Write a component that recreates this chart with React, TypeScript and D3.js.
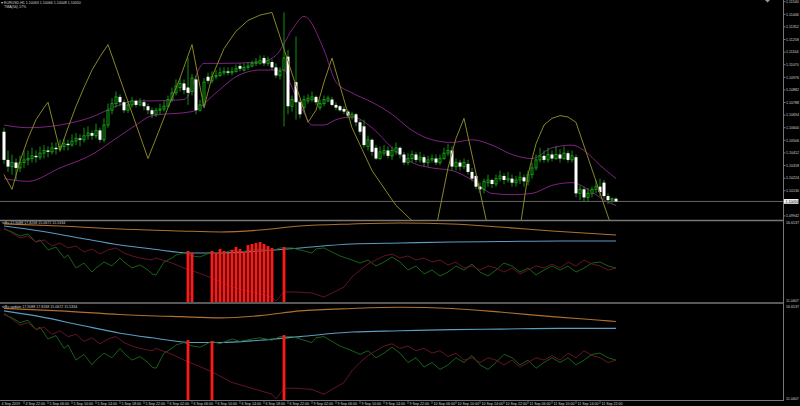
import * as d3 from 'd3'

// price axis (main window)
const priceTicks = [1.1154, 1.11446, 1.11352, 1.11258, 1.11164, 1.1107, 1.10976, 1.10882, 1.10788,
  1.10694, 1.106, 1.10506, 1.10412, 1.10318, 1.10224, 1.1013, 1.10036, 1.09942]
const lastPrice = 1.1005
const subTicks = [16.6137, 11.0407]

const timeLabels = ['4 Sep 2019', '4 Sep 22:00', '5 Sep 06:00', '5 Sep 10:00', '5 Sep 14:00', '5 Sep 18:00',
  '5 Sep 22:00', '6 Sep 02:00', '6 Sep 06:00', '6 Sep 10:00', '6 Sep 14:00', '6 Sep 18:00', '6 Sep 22:00',
  '9 Sep 02:00', '9 Sep 06:00', '9 Sep 10:00', '9 Sep 14:00', '9 Sep 22:00', '10 Sep 06:00', '10 Sep 10:00',
  '10 Sep 14:00', '10 Sep 22:00', '11 Sep 06:00', '11 Sep 10:00', '11 Sep 14:00', '11 Sep 22:00']
const timeLabelBars = [0, 5, 11, 17, 23, 29, 35, 41, 47, 53, 59, 65, 71, 77, 83, 89, 95, 101, 107, 113, 119,
  125, 131, 137, 143, 149]

// candles
const opens = [
  1.1057, 1.1036, 1.1031, 1.1034, 1.1030, 1.1034, 1.1036, 1.1037, 1.1039, 1.1038,
  1.1041, 1.1043, 1.1042, 1.1045, 1.1044, 1.1046, 1.1048, 1.1047, 1.1050, 1.1052,
  1.1051, 1.1054, 1.1056, 1.1054, 1.1058, 1.1051, 1.1062, 1.1073, 1.1078, 1.1083,
  1.1079, 1.1073, 1.1077, 1.1080, 1.1077, 1.1079, 1.1076, 1.1073, 1.1070, 1.1073,
  1.1074, 1.1076, 1.1081, 1.1086, 1.1090, 1.1093, 1.1090, 1.1087, 1.1096, 1.1073,
  1.1077, 1.1098, 1.1095, 1.1098, 1.1099, 1.1101, 1.1102, 1.1101, 1.1102, 1.1106,
  1.1103, 1.1105, 1.1106, 1.1108, 1.1108, 1.1112, 1.1108, 1.1109, 1.1105, 1.1099,
  1.1103, 1.1113, 1.1076, 1.1094, 1.1079, 1.1075, 1.1080, 1.1081, 1.1083, 1.1075,
  1.1078, 1.1080, 1.1081, 1.1077, 1.1076, 1.1074, 1.1072, 1.1068, 1.1070, 1.1064,
  1.1061, 1.1046, 1.1051, 1.1045, 1.1037, 1.1041, 1.1043, 1.1039, 1.1042, 1.1045,
  1.1040, 1.1034, 1.1037, 1.1040, 1.1036, 1.1038, 1.1034, 1.1036, 1.1037, 1.1034,
  1.1037, 1.1041, 1.1043, 1.1031, 1.1034, 1.1031, 1.1033, 1.1027, 1.1024, 1.1016,
  1.1014, 1.1019, 1.1021, 1.1018, 1.1022, 1.1024, 1.1021, 1.1022, 1.1019, 1.1021,
  1.1023, 1.1020, 1.1025, 1.1030, 1.1036, 1.1039, 1.1036, 1.1040, 1.1037, 1.1040,
  1.1037, 1.1041, 1.1036, 1.1038, 1.1011, 1.1014, 1.1008, 1.1011, 1.1014, 1.1016,
  1.1019, 1.1009, 1.1006, 1.1007]
const highs = [
  1.1060, 1.1043, 1.1040, 1.1037, 1.1039, 1.1043, 1.1043, 1.1045, 1.1043, 1.1046,
  1.1047, 1.1046, 1.1049, 1.1049, 1.1051, 1.1052, 1.1051, 1.1055, 1.1056, 1.1055,
  1.1060, 1.1061, 1.1058, 1.1063, 1.1060, 1.1067, 1.1078, 1.1082, 1.1087, 1.1085,
  1.1081, 1.1080, 1.1083, 1.1081, 1.1082, 1.1081, 1.1078, 1.1075, 1.1075, 1.1078,
  1.1080, 1.1084, 1.1090, 1.1096, 1.1097, 1.1096, 1.1112, 1.1100, 1.1099, 1.1081,
  1.1097, 1.1101, 1.1102, 1.1103, 1.1105, 1.1105, 1.1105, 1.1105, 1.1107, 1.1108,
  1.1108, 1.1109, 1.1110, 1.1112, 1.1114, 1.1114, 1.1113, 1.1111, 1.1108, 1.1105,
  1.1146, 1.1118, 1.1084, 1.1128, 1.1081, 1.1084, 1.1085, 1.1087, 1.1084, 1.1081,
  1.1084, 1.1084, 1.1083, 1.1079, 1.1077, 1.1076, 1.1073, 1.1072, 1.1071, 1.1066,
  1.1066, 1.1054, 1.1052, 1.1047, 1.1046, 1.1047, 1.1046, 1.1046, 1.1049, 1.1046,
  1.1042, 1.1041, 1.1043, 1.1042, 1.1042, 1.1040, 1.1039, 1.1040, 1.1040, 1.1040,
  1.1045, 1.1048, 1.1046, 1.1037, 1.1036, 1.1037, 1.1036, 1.1030, 1.1025, 1.1019,
  1.1022, 1.1025, 1.1022, 1.1025, 1.1028, 1.1026, 1.1027, 1.1025, 1.1024, 1.1027,
  1.1025, 1.1028, 1.1034, 1.1040, 1.1045, 1.1043, 1.1045, 1.1043, 1.1046, 1.1044,
  1.1046, 1.1043, 1.1043, 1.1040, 1.1017, 1.1016, 1.1015, 1.1016, 1.1021, 1.1022,
  1.1021, 1.1011, 1.1008, 1.1008]
const lows = [
  1.1033, 1.1027, 1.1025, 1.1021, 1.1027, 1.1030, 1.1032, 1.1034, 1.1034, 1.1036,
  1.1037, 1.1038, 1.1040, 1.1040, 1.1042, 1.1043, 1.1043, 1.1046, 1.1047, 1.1046,
  1.1049, 1.1051, 1.1051, 1.1052, 1.1049, 1.1049, 1.1060, 1.1070, 1.1075, 1.1076,
  1.1071, 1.1071, 1.1075, 1.1075, 1.1076, 1.1073, 1.1070, 1.1067, 1.1068, 1.1070,
  1.1072, 1.1075, 1.1079, 1.1084, 1.1087, 1.1085, 1.1077, 1.1084, 1.1070, 1.1072,
  1.1075, 1.1093, 1.1093, 1.1096, 1.1098, 1.1099, 1.1099, 1.1099, 1.1101, 1.1102,
  1.1102, 1.1103, 1.1105, 1.1106, 1.1107, 1.1106, 1.1106, 1.1103, 1.1097, 1.1096,
  1.1061, 1.1070, 1.1072, 1.1066, 1.1067, 1.1072, 1.1078, 1.1079, 1.1077, 1.1073,
  1.1076, 1.1079, 1.1076, 1.1073, 1.1072, 1.1070, 1.1067, 1.1066, 1.1061, 1.1055,
  1.1045, 1.1043, 1.1039, 1.1036, 1.1036, 1.1039, 1.1037, 1.1036, 1.1040, 1.1037,
  1.1032, 1.1032, 1.1034, 1.1034, 1.1034, 1.1031, 1.1031, 1.1034, 1.1032, 1.1032,
  1.1036, 1.1039, 1.1028, 1.1028, 1.1028, 1.1029, 1.1025, 1.1020, 1.1014, 1.1011,
  1.1011, 1.1016, 1.1015, 1.1016, 1.1020, 1.1018, 1.1019, 1.1016, 1.1016, 1.1018,
  1.1016, 1.1017, 1.1022, 1.1028, 1.1034, 1.1034, 1.1034, 1.1035, 1.1036, 1.1034,
  1.1036, 1.1034, 1.1034, 1.1008, 1.1006, 1.1005, 1.1005, 1.1008, 1.1011, 1.1009,
  1.1007, 1.1003, 1.1004, 1.1005]
const closes = [
  1.1036, 1.1031, 1.1034, 1.1030, 1.1034, 1.1036, 1.1037, 1.1039, 1.1038, 1.1041,
  1.1043, 1.1042, 1.1045, 1.1044, 1.1046, 1.1048, 1.1047, 1.1050, 1.1052, 1.1051,
  1.1054, 1.1056, 1.1054, 1.1058, 1.1051, 1.1062, 1.1073, 1.1078, 1.1083, 1.1079,
  1.1073, 1.1077, 1.1080, 1.1077, 1.1079, 1.1076, 1.1073, 1.1070, 1.1073, 1.1074,
  1.1076, 1.1081, 1.1086, 1.1091, 1.1093, 1.1088, 1.1086, 1.1097, 1.1073, 1.1077,
  1.1094, 1.1095, 1.1098, 1.1099, 1.1101, 1.1102, 1.1101, 1.1102, 1.1104, 1.1104,
  1.1105, 1.1106, 1.1108, 1.1109, 1.1110, 1.1108, 1.1110, 1.1105, 1.1099, 1.1102,
  1.1112, 1.1076, 1.1081, 1.1079, 1.1070, 1.1081, 1.1082, 1.1083, 1.1079, 1.1078,
  1.1081, 1.1082, 1.1077, 1.1075, 1.1073, 1.1072, 1.1069, 1.1070, 1.1064, 1.1057,
  1.1047, 1.1051, 1.1042, 1.1037, 1.1042, 1.1043, 1.1039, 1.1043, 1.1045, 1.1040,
  1.1034, 1.1037, 1.1040, 1.1036, 1.1038, 1.1034, 1.1036, 1.1037, 1.1034, 1.1037,
  1.1041, 1.1043, 1.1031, 1.1034, 1.1031, 1.1034, 1.1027, 1.1022, 1.1016, 1.1014,
  1.1020, 1.1021, 1.1018, 1.1022, 1.1024, 1.1021, 1.1022, 1.1019, 1.1021, 1.1023,
  1.1020, 1.1025, 1.1030, 1.1036, 1.1039, 1.1036, 1.1040, 1.1037, 1.1040, 1.1037,
  1.1041, 1.1036, 1.1039, 1.1011, 1.1014, 1.1008, 1.1011, 1.1014, 1.1016, 1.1012,
  1.1009, 1.1006, 1.1007, 1.1005]

// overlays on price: [bar, price]
const upperBand: [number, number][] = [[0, 1.1062], [6, 1.1060], [14, 1.1062], [22, 1.1068], [28, 1.1076],
  [33, 1.1080], [37, 1.1080], [45, 1.1081], [50, 1.1108], [55, 1.1108], [64, 1.1109], [68, 1.1114],
  [72, 1.1133], [75, 1.1143], [80, 1.1118], [83, 1.1094], [87, 1.1086], [92, 1.1079], [97, 1.1070],
  [102, 1.1058], [107, 1.1051], [112, 1.1049], [117, 1.1051], [122, 1.1047], [127, 1.1040], [132, 1.1037],
  [137, 1.1045], [142, 1.1047], [145, 1.1043], [149, 1.1032], [153, 1.1022]]
const lowerBand: [number, number][] = [[0, 1.1022], [6, 1.1020], [14, 1.1030], [22, 1.1040], [28, 1.1052],
  [33, 1.1062], [37, 1.1069], [47, 1.1072], [53, 1.1086], [58, 1.1098], [64, 1.1103], [70, 1.1103],
  [72, 1.1090], [75, 1.1071], [77, 1.1062], [80, 1.1062], [83, 1.1066], [87, 1.1068], [92, 1.1060],
  [97, 1.1045], [102, 1.1034], [107, 1.1030], [112, 1.1028], [117, 1.1021], [122, 1.1011], [127, 1.1010],
  [132, 1.1011], [137, 1.1017], [142, 1.1019], [147, 1.1012], [150, 1.1006], [153, 1.1002]]
const sawLine: [number, number][] = [[0, 1.1025], [2, 1.1014], [4, 1.1035], [6, 1.1052], [8, 1.1066],
  [10, 1.1075], [11, 1.1079], [14, 1.1043], [16, 1.1060], [18, 1.1076], [20, 1.1090], [22, 1.1103],
  [24, 1.1113], [26, 1.1122], [36, 1.1037], [38, 1.1052], [41, 1.1075], [44, 1.1097], [47, 1.1122],
  [50, 1.1075], [52, 1.1098], [55, 1.1119], [58, 1.1132], [61, 1.1140], [64, 1.1144], [67, 1.1146],
  [76, 1.1064], [78, 1.1073], [80, 1.1094], [82, 1.1112], [87, 1.1060], [92, 1.1028], [98, 1.1002],
  [104, 1.0985], [108, 1.0985], [111, 1.1030], [113, 1.1052], [115, 1.1067], [121, 1.0985], [129, 1.0985],
  [131, 1.1025], [133, 1.1048], [135, 1.1062], [137, 1.1067], [139, 1.1069], [141, 1.1068], [143, 1.1064],
  [152, 1.0985]]

// stBu sub-window lines: [bar, value]
const stOrange: [number, number][] = [[0, 16.41], [14, 16.27], [29, 16.06], [44, 15.93], [54, 15.86],
  [64, 15.99], [74, 16.27], [87, 16.41], [99, 16.48], [112, 16.41], [124, 16.2], [137, 15.93], [149, 15.72],
  [153, 15.65]]
const stBlue: [number, number][] = [[0, 16.27], [9, 15.93], [19, 15.44], [29, 14.96], [37, 14.69], [47, 14.41],
  [54, 14.41], [64, 14.55], [74, 14.76], [87, 15.03], [99, 15.1], [112, 15.17], [124, 15.2], [139, 15.24],
  [153, 15.24]]
const stGreen: [number, number][] = [[0, 16.06], [2, 15.86], [4, 15.58], [6, 15.72], [8, 15.17], [9, 15.31],
  [11, 14.62], [13, 14.82], [15, 14.07], [16, 14.27], [18, 13.38], [20, 13.72], [22, 13.1], [23, 13.38],
  [25, 13.79], [27, 13.52], [29, 14.07], [30, 13.79], [32, 13.38], [34, 13.59], [36, 13.24], [37, 12.97],
  [38, 12.9], [40, 13.79], [42, 14.07], [43, 14.27], [45, 14.41], [47, 14.21], [49, 14.14], [52, 14.48],
  [54, 14.34], [57, 14.62], [59, 14.48], [62, 14.62], [64, 14.69], [67, 14.55], [69, 14.76], [72, 14.76],
  [74, 14.62], [77, 14.41], [78, 14.69], [80, 14.76], [82, 14.48], [84, 14.21], [87, 13.93], [89, 13.72],
  [91, 13.93], [93, 13.52], [95, 13.79], [97, 14.14], [99, 13.79], [101, 13.24], [103, 13.52], [105, 12.97],
  [107, 13.24], [109, 12.83], [111, 13.1], [113, 13.52], [115, 13.24], [117, 13.65], [119, 13.1], [121, 12.83],
  [123, 13.24], [125, 13.72], [127, 13.52], [129, 13.1], [131, 13.38], [133, 12.9], [135, 13.24], [137, 13.52],
  [139, 13.24], [141, 13.52], [143, 13.1], [145, 13.38], [147, 13.72], [149, 13.79], [151, 13.52], [153, 13.38]]
const stMaroon: [number, number][] = [[0, 16.13], [2, 15.79], [4, 15.44], [6, 15.58], [8, 15.17], [10, 15.31],
  [12, 14.89], [14, 15.1], [16, 14.76], [18, 14.89], [20, 14.48], [22, 14.69], [24, 14.34], [26, 14.62],
  [28, 14.76], [30, 14.41], [32, 14.21], [34, 14.07], [37, 13.93], [38, 14.07], [42, 13.72], [45, 13.38],
  [48, 13.1], [52, 12.69], [57, 12.07], [62, 11.73], [67, 11.38], [68, 11.11], [70, 11.73], [73, 11.73],
  [77, 11.66], [80, 11.38], [82, 11.66], [85, 12.07], [87, 12.76], [89, 13.24], [91, 13.65], [93, 13.93],
  [95, 14.21], [97, 14.34], [99, 14.07], [101, 14.21], [103, 13.93], [105, 14.07], [107, 13.79], [109, 13.93],
  [111, 13.59], [113, 13.79], [115, 13.38], [117, 13.52], [119, 13.24], [121, 13.52], [123, 13.38],
  [125, 13.1], [127, 13.38], [129, 12.97], [131, 13.24], [133, 13.52], [135, 13.38], [137, 13.65],
  [139, 13.38], [141, 13.79], [143, 13.52], [145, 13.93], [147, 13.65], [149, 13.52], [151, 13.24], [153, 13.38]]

// histogram signals
const histBars1 = [46, 47, 52, 53, 54, 55, 56, 57, 58, 59, 60, 61, 62, 63, 64, 65, 66, 67, 70]
const histVals1 = [14.55, 14.41, 14.55, 14.41, 14.69, 14.55, 14.41, 14.62, 14.82, 14.69, 14.48, 14.96, 15.03,
  15.1, 15.17, 15.03, 14.89, 14.76, 14.82]
const histBars2 = [46, 52, 70]
const histVals2 = [14.56, 14.5, 14.85]

const AXIS_X = 783.5
const MAIN_BOTTOM = 220
const SUB1 = { top: 221, bottom: 302 }
const SUB2 = { top: 305, bottom: 400 }

const GREEN = '#15a015'
const GRID = '#777'
const TXT = '#d4d4d4'
const FONT = "'Liberation Sans', Arial, sans-serif"
const FS = 3.6

const x = d3.scaleLinear().domain([0, closes.length - 1]).range([4, 616])
const yMain = d3.scaleLinear().domain([priceTicks[priceTicks.length - 1], priceTicks[0]]).range([215.9, 1.7])
const ySub1 = d3.scaleLinear().domain([subTicks[1], subTicks[0]]).range([SUB1.bottom, SUB1.top])
const ySub2 = d3.scaleLinear().domain([subTicks[1], subTicks[0]]).range([SUB2.bottom, SUB2.top])

const mk = (ys: d3.ScaleLinear<number, number>, curve: d3.CurveFactory) =>
  d3.line<[number, number]>().x(d => x(d[0])).y(d => ys(d[1])).curve(curve)

function SubWindow({ ys, bars, vals, top, bottom, clip, title }: any) {
  const smooth = mk(ys, d3.curveMonotoneX)
  const raw = mk(ys, d3.curveLinear)
  return (
    <g>
      <g clipPath={`url(#${clip})`}>
        <path d={smooth(stOrange)!} fill="none" stroke="#b0702e" strokeWidth={1.1} />
        <path d={smooth(stBlue)!} fill="none" stroke="#5a9cc2" strokeWidth={1.1} />
        <path d={raw(stGreen)!} fill="none" stroke="#1b6b1b" strokeWidth={0.9} />
        <path d={raw(stMaroon)!} fill="none" stroke="#6e1628" strokeWidth={0.9} />
        {bars.map((b: number, k: number) => (
          <rect key={k} x={x(b) - 1.4} width={2.8} y={ys(vals[k])} height={bottom - ys(vals[k])} fill="#ff1a1a" />
        ))}
      </g>
      <text x={2} y={top + 3.4} fontSize={FS} fill={TXT}>{title}</text>
      {subTicks.map((t, k) => (
        <text key={k} x={786} y={k === 0 ? top + 2 : bottom - 1} dy="0.35em" fontSize={FS} fill={TXT}>
          {t.toFixed(4)}
        </text>
      ))}
    </g>
  )
}

export default function App() {
  const smoothMain = mk(yMain, d3.curveMonotoneX)
  const sharpMain = mk(yMain, d3.curveLinear)
  const yLast = yMain(lastPrice)
  return (
    <svg width={800} height={406} style={{ position: 'fixed', left: 0, top: 0, display: 'block' }}
      fontFamily={FONT}>
      <defs>
        <clipPath id="cMain"><rect x={0} y={0} width={AXIS_X} height={MAIN_BOTTOM} /></clipPath>
        <clipPath id="cSub1"><rect x={0} y={SUB1.top} width={AXIS_X} height={SUB1.bottom - SUB1.top} /></clipPath>
        <clipPath id="cSub2"><rect x={0} y={SUB2.top} width={AXIS_X} height={SUB2.bottom - SUB2.top} /></clipPath>
      </defs>
      <rect width={800} height={406} fill="#000" />

      {/* main window */}
      <g clipPath="url(#cMain)">
        <line x1={0} x2={AXIS_X} y1={yLast} y2={yLast} stroke="#808080" strokeWidth={0.8} />
        <path d={smoothMain(upperBand)!} fill="none" stroke="#7e227e" strokeWidth={1} />
        <path d={smoothMain(lowerBand)!} fill="none" stroke="#7e227e" strokeWidth={1} />
        {closes.map((c, i) => {
          const o = opens[i]
          const cx = x(i)
          const yo = yMain(o), yc = yMain(c)
          const top = Math.min(yo, yc)
          const h = Math.max(1, Math.abs(yo - yc))
          return (
            <g key={i}>
              <line x1={cx} x2={cx} y1={yMain(highs[i])} y2={yMain(lows[i])} stroke={GREEN} strokeWidth={0.9} />
              {c < o
                ? <rect x={cx - 1.5} y={top} width={3} height={h} fill="#fff" />
                : <rect x={cx - 1} y={top} width={2} height={h} fill="#000" stroke={GREEN} strokeWidth={1} />}
            </g>
          )
        })}
        <path d={sharpMain(sawLine)!} fill="none" stroke="#878726" strokeWidth={1} />
      </g>
      <text x={1} y={4} fontSize={FS} fill={TXT}>▾ EURUSD,H1  1.10063 1.10066 1.10048 1.10050</text>
      <text x={4} y={7.6} fontSize={FS} fill={TXT}>TMA(56) 17%</text>
      <path d="M765,0 L770,0 L767.5,2.6 Z" fill="#999" />

      {/* price axis */}
      {priceTicks.filter(t => Math.abs(yMain(t) - yLast) > 4).map((t, k) => (
        <g key={k}>
          <line x1={AXIS_X} x2={AXIS_X + 2} y1={yMain(t)} y2={yMain(t)} stroke={GRID} />
          <text x={786} y={yMain(t)} dy="0.35em" fontSize={FS} fill={TXT}>{t.toFixed(5)}</text>
        </g>
      ))}
      <rect x={AXIS_X} y={yLast - 2.4} width={15} height={4.8} fill="#f2f2f2" />
      <text x={785.5} y={yLast} dy="0.35em" fontSize={FS} fill="#000">{lastPrice.toFixed(5)}</text>

      {/* sub windows */}
      <SubWindow ys={ySub1} bars={histBars1} vals={histVals1} top={SUB1.top} bottom={SUB1.bottom} clip="cSub1"
        title="stBu 17.9088 17.8268 15.0672 15.5334" />
      <SubWindow ys={ySub2} bars={histBars2} vals={histVals2} top={SUB2.top} bottom={SUB2.bottom} clip="cSub2"
        title="stBu update 17.9088 17.8268 15.0672 15.5334" />

      {/* frame lines */}
      <line x1={0} x2={AXIS_X} y1={MAIN_BOTTOM + 0.5} y2={MAIN_BOTTOM + 0.5} stroke={GRID} strokeWidth={1.4} />
      <line x1={0} x2={AXIS_X} y1={SUB1.bottom + 1} y2={SUB1.bottom + 1} stroke={GRID} strokeWidth={1.4} />
      <line x1={0} x2={AXIS_X} y1={SUB2.bottom + 0.5} y2={SUB2.bottom + 0.5} stroke={GRID} strokeWidth={1} />
      <line x1={AXIS_X} x2={AXIS_X} y1={0} y2={SUB2.bottom + 1} stroke={GRID} strokeWidth={1} />

      {/* time axis */}
      {timeLabels.map((s, k) => {
        const tx = k === 0 ? 0 : x(timeLabelBars[k])
        return (
          <g key={k}>
            {k > 0 && <line x1={tx} x2={tx} y1={SUB2.bottom + 1} y2={SUB2.bottom + 4} stroke={GRID} strokeWidth={0.8} />}
            <text x={tx + 1.5} y={404.6} fontSize={FS} fill={TXT}>{s}</text>
          </g>
        )
      })}
    </svg>
  )
}
